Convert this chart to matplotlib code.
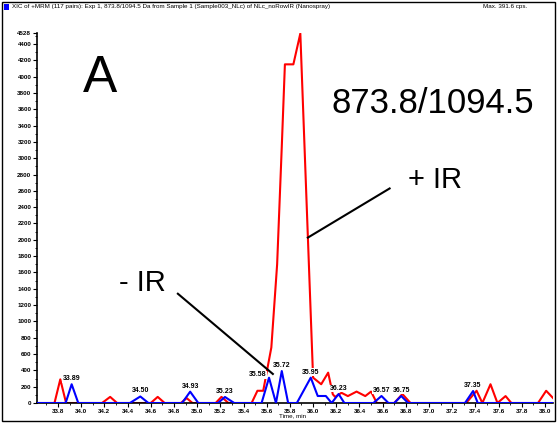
import numpy as np
import matplotlib.pyplot as plt
from matplotlib.patches import Rectangle
from matplotlib.ticker import MultipleLocator

plt.rcParams['font.family'] = ['Liberation Sans', 'DejaVu Sans']

# --- data (time in min, intensity in cps) ---
red_t = [33.62, 33.77, 33.82, 33.87, 34.18, 34.25, 34.31, 34.60, 34.66, 34.72,
         34.86, 34.91, 34.96, 35.16, 35.21, 35.27, 35.47, 35.52, 35.57, 35.64,
         35.69, 35.73, 35.757, 35.83, 35.89, 36.00, 36.07, 36.13, 36.17, 36.19,
         36.245, 36.30, 36.375, 36.45, 36.50, 36.55, 36.70, 36.77, 36.84, 37.32,
         37.41, 37.46, 37.53, 37.59, 37.66, 37.71, 37.94, 38.01, 38.07]
red_i = [0, 0, 290, 0, 0, 75, 0, 0, 75, 0,
         0, 60, 0, 0, 75, 0, 0, 150, 150, 680,
         1700, 3140, 4150, 4150, 4528, 311, 230, 372, 107, 75,
         125, 85, 140, 85, 140, 0, 0, 110, 0, 0,
         150, 0, 230, 0, 85, 0, 0, 150, 60]

blue_t = [33.62, 33.866, 33.918, 33.975, 34.42, 34.51, 34.58, 34.87, 34.94, 35.01,
          35.18, 35.24, 35.32, 35.556, 35.62, 35.68, 35.73, 35.785, 35.86, 35.98,
          36.04, 36.11, 36.16, 36.22, 36.27, 36.52, 36.59, 36.65, 36.70, 36.76,
          36.82, 37.31, 37.38, 37.42, 38.07]
blue_i = [0, 0, 230, 0, 0, 80, 0, 0, 139, 0,
          0, 74, 0, 0, 310, 0, 392, 0, 0, 311,
          86, 86, 0, 110, 0, 0, 86, 0, 0, 86,
          0, 0, 147, 0, 0]

peak_labels = ['33.89', '34.50', '34.93', '35.23', '35.58', '35.72',
               '35.95', '36.23', '36.57', '36.75', '37.35']
peak_t = [33.918, 34.51, 34.94, 35.24, 35.62, 35.73, 35.98, 36.22, 36.59, 36.76, 37.38]
peak_i = [230, 80, 139, 74, 310, 392, 311, 110, 86, 86, 147]

y_ticks = list(range(0, 4401, 200)) + [4528]
x_ticks = np.round(np.arange(33.8, 38.01, 0.2), 1)

fig = plt.figure(figsize=(5.57, 4.24), dpi=100)
ax = fig.add_axes([0.0664, 0.0495, 0.926, 0.8715])

ax.plot(red_t, red_i, color='#ff0000', lw=1.5, zorder=2)
ax.plot(blue_t, blue_i, color='#0000ff', lw=1.5, zorder=3)

ax.set_xlim(33.619, 38.067)
ax.set_ylim(0, 4528)

for ax_side in ['top', 'right']:
    ax.spines[ax_side].set_visible(False)
ax.spines['left'].set_linewidth(1.2)
ax.spines['bottom'].set_linewidth(1.2)

ax.set_yticks(y_ticks)
ax.set_yticklabels([str(v) for v in y_ticks])
ax.yaxis.set_minor_locator(MultipleLocator(100))
ax.set_xticks(x_ticks)
ax.set_xticklabels([f'{v:.1f}' for v in x_ticks])
ax.xaxis.set_minor_locator(MultipleLocator(0.1))
ax.tick_params(axis='both', which='major', direction='out', length=3, width=0.8,
               labelsize=4.5, pad=1)
ax.tick_params(axis='both', which='minor', direction='out', length=1.5, width=0.6)
for lbl in ax.get_xticklabels() + ax.get_yticklabels():
    lbl.set_fontweight('bold')

ax.set_xlabel('Time, min', fontsize=4.5, labelpad=0.5)
ax.xaxis.set_label_coords(0.495, -0.028)

# peak apex labels
for lab, t, v in zip(peak_labels, peak_t, peak_i):
    if lab == '35.58':
        ax.annotate(lab, (t, v), xytext=(-2, 2), textcoords='offset points',
                    ha='right', va='center', fontsize=5, fontweight='bold',
                    bbox=dict(fc='white', ec='none', pad=0.3), zorder=6)
    else:
        ax.annotate(lab, (t, v), xytext=(0, 1.5), textcoords='offset points',
                    ha='center', va='bottom', fontsize=5, fontweight='bold',
                    bbox=dict(fc='white', ec='none', pad=0.3), zorder=6)

# leader lines and big annotations
ax.plot([36.66, 35.955], [2629, 2027], color='black', lw=1.5, zorder=5)
ax.plot([34.834, 35.653], [1339, 356], color='black', lw=1.5, zorder=5)
ax.text(37.05, 2727, '+ IR', fontsize=21, ha='center', va='center')
ax.text(34.53, 1474, '- IR', fontsize=21, ha='center', va='center')
ax.text(34.16, 3980, 'A', fontsize=37, ha='center', va='center')
ax.text(37.03, 3673, '873.8/1094.5', fontsize=25, ha='center', va='center')

# header and frame
fig.patches.append(Rectangle((0.004, 0.006), 0.992, 0.99, transform=fig.transFigure,
                             fill=False, ec='black', lw=1))
fig.patches.append(Rectangle((0.0065, 0.9775), 0.0095, 0.0125, transform=fig.transFigure,
                             fc='#0000ff', ec='none'))
fig.text(0.021, 0.984, 'XIC of +MRM (117 pairs): Exp 1, 873.8/1094.5 Da from Sample 1 '
         '(Sample003_NLc) of NLc_noRowIR (Nanospray)', fontsize=4.5, va='center', ha='left')
fig.text(0.947, 0.984, 'Max. 391.6 cps.', fontsize=4.5, va='center', ha='right')

fig.savefig('out.png', dpi=100)
